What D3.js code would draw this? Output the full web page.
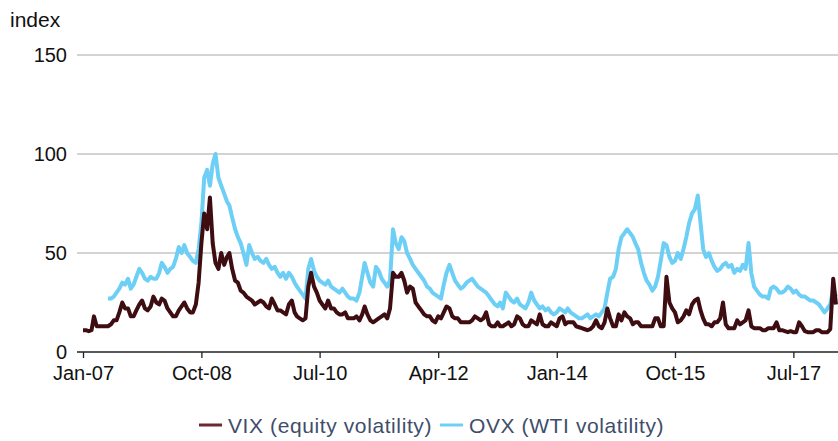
<!DOCTYPE html>
<html>
<head>
<meta charset="utf-8">
<script src="https://cdn.jsdelivr.net/npm/d3@7"></script>
<style>
  body { margin: 0; background: #fff; }
  svg { display: block; }
</style>
</head>
<body>
<svg id="chart" width="838" height="441"></svg>
<script>
// semi-monthly readings (1st and 16th of each month), Jan 2007 - Feb 2018
const vix = [
  11, 11, 10.5, 11, 18, 13, 13, 13, 13, 13, 14, 16, 16, 20, 25, 22, 22, 18, 18, 21, 24, 26, 22, 21,
  23, 28, 25, 24, 27, 26, 22, 20, 18, 18, 21, 23, 25, 22, 20, 20, 24, 35, 55, 70, 62, 78, 55, 45,
  42, 50, 44, 48, 50, 42, 36, 35, 31, 30, 28, 27, 26, 24, 25, 26, 25, 23, 22, 27, 24, 21, 21, 20,
  19, 24, 26, 20, 18, 17, 16, 17, 33, 40, 33, 30, 26, 24, 22, 26, 22, 22, 20, 19, 19, 20, 17, 17,
  17, 18, 16, 19, 23, 19, 16, 15, 16, 17, 18, 19, 17, 22, 40, 38, 38, 40, 36, 30, 33, 32, 25, 23,
  21, 19, 18, 18, 16, 15, 18, 17, 20, 23, 22, 18, 17, 17, 15, 15, 15, 15, 16, 18, 17, 16, 17, 20,
  14, 13, 13, 15, 13, 13, 14, 15, 13, 14, 18, 17, 14, 13, 13, 16, 15, 14, 19, 14, 13, 13, 15, 14,
  13, 17, 18, 14, 15, 15, 15, 13, 12.5, 12, 11.5, 11, 11.5, 13, 16, 13, 12, 15, 22, 17, 13, 13, 19, 16,
  20, 18, 17, 14, 15, 15, 13, 13, 13, 13, 13, 17, 17, 13, 13, 38, 25, 22, 20, 15, 16, 18, 21, 19,
  24, 26, 27, 21, 17, 14, 14, 13, 15, 15, 17, 25, 14, 12, 12, 12, 16, 14, 15, 16, 21, 13, 12, 12,
  12, 11, 11, 12, 12, 12, 15, 11, 11, 10.5, 10, 10.5, 10, 10, 15, 13, 10.5, 10, 10, 10, 11, 11, 10, 10,
  10, 11.5, 37, 24
];

const ovx = [
  null, null, null, null, null, null, null, null, null, 27, 27, 28, 30, 32, 35, 34, 37, 32, 34, 38, 42, 40, 37, 36,
  38, 37, 37, 40, 45, 43, 40, 42, 43, 47, 53, 50, 54, 50, 48, 46, 45, 52, 65, 88, 92, 84, 95, 100,
  88, 84, 80, 76, 74, 68, 62, 58, 55, 50, 44, 54, 50, 47, 48, 46, 45, 47, 44, 42, 43, 40, 38, 40,
  37, 40, 38, 35, 33, 31, 29, 27, 42, 47, 41, 38, 36, 35, 34, 36, 33, 32, 31, 30, 32, 30, 28, 27,
  27, 26, 30, 38, 45, 40, 35, 33, 43, 41, 37, 35, 33, 36, 62, 55, 52, 58, 56, 50, 47, 44, 42, 40,
  38, 36, 33, 32, 30, 29, 28, 27, 34, 40, 44, 40, 36, 34, 32, 33, 35, 36, 37, 35, 33, 32, 31, 30,
  28, 26, 24, 23, 25, 22, 30, 28, 26, 25, 27, 24, 23, 22, 25, 30, 26, 24, 22, 23, 21, 22, 20, 19,
  20, 22, 21, 20, 22, 20, 19, 18, 17, 17, 18, 19, 17, 18, 19, 18, 20, 22, 30, 37, 38, 42, 52, 58,
  60, 62, 60, 58, 55, 52, 45, 40, 36, 34, 31, 33, 38, 46, 55, 54, 48, 45, 46, 50, 47, 52, 58, 65,
  70, 72, 79, 65, 52, 48, 50, 46, 43, 41, 42, 44, 45, 43, 44, 40, 42, 41, 44, 42, 55, 40, 33, 31,
  29, 28, 28, 27, 32, 33, 32, 30, 30, 31, 33, 32, 30, 31, 29, 28, 28, 27, 26, 26, 25, 24, 22, 20,
  22, 24, 32, 28
];

const yTicks = [0, 50, 100, 150];
const xTickLabels = ["Jan-07", "Oct-08", "Jul-10", "Apr-12", "Jan-14", "Oct-15", "Jul-17"];
const seriesNames = ["VIX (equity volatility)", "OVX (WTI volatility)"];
const seriesColors = ["#3e0d12", "#6dcff6"];

// dates for the semi-monthly readings
const dates = vix.map((v, i) => new Date(2007, Math.floor(i / 2), i % 2 ? 16 : 1));
const tickDates = xTickLabels.map((s, i) => new Date(2007, i * 21, 1));

const svg = d3.select("#chart");
const width = 838, height = 441;
const margin = { top: 55, right: 2, bottom: 89, left: 83 };
const font = "'Liberation Sans', Arial, sans-serif";

const x = d3.scaleTime()
  .domain([new Date(2007, 0, 1), new Date(2018, 1, 16)])
  .range([margin.left, width - margin.right]);

const y = d3.scaleLinear()
  .domain([0, 150])
  .range([height - margin.bottom, margin.top]);

// gridlines
svg.append("g")
  .selectAll("line")
  .data(yTicks.filter(d => d > 0))
  .join("line")
  .attr("x1", 77)
  .attr("x2", width)
  .attr("y1", d => y(d))
  .attr("y2", d => y(d))
  .attr("stroke", "#c4c4c4")
  .attr("stroke-width", 1.3);

// y labels
svg.append("g")
  .selectAll("text")
  .data(yTicks)
  .join("text")
  .attr("x", 67)
  .attr("y", d => y(d))
  .attr("dy", "0.36em")
  .attr("text-anchor", "end")
  .style("font", `20px ${font}`)
  .attr("fill", "#111")
  .text(d => d);

svg.append("text")
  .attr("x", 10)
  .attr("y", 27)
  .style("font", `21px ${font}`)
  .attr("fill", "#111")
  .text("index");

// lines, OVX first so VIX sits on top
const line = d3.line()
  .defined(d => d[1] != null)
  .x(d => x(d[0]))
  .y(d => y(d[1]));

[ovx, vix].forEach((vals, k) => {
  const color = k === 0 ? seriesColors[1] : seriesColors[0];
  svg.append("path")
    .datum(vals.map((v, i) => [dates[i], v]))
    .attr("fill", "none")
    .attr("stroke", color)
    .attr("stroke-width", 4)
    .attr("stroke-linejoin", "round")
    .attr("d", line);
});

// x axis
const xAxis = d3.axisBottom(x)
  .tickValues(tickDates)
  .tickFormat((d, i) => xTickLabels[i])
  .tickSize(6)
  .tickSizeOuter(0);

const gx = svg.append("g")
  .attr("transform", `translate(0, ${y(0)})`)
  .call(xAxis);
gx.select(".domain").attr("d", `M77,0H${width}`).attr("stroke", "#222").attr("stroke-width", 1.3);
gx.selectAll(".tick line").attr("stroke", "#222").attr("stroke-width", 1.3);
gx.selectAll(".tick text")
  .attr("y", 14)
  .style("font", `20px ${font}`)
  .attr("fill", "#111");

// legend
const legend = svg.append("g").attr("transform", "translate(0, 425)");
const legendX = [199, 440];
seriesNames.forEach((name, i) => {
  legend.append("line")
    .attr("x1", legendX[i])
    .attr("x2", legendX[i] + 23)
    .attr("stroke", i === 0 ? "#6b2a2e" : seriesColors[1])
    .attr("stroke-width", 3);
  legend.append("text")
    .attr("x", legendX[i] + 29)
    .attr("dy", "0.36em")
    .style("font", `21px ${font}`)
    .style("letter-spacing", "0.6px")
    .attr("fill", "#3f4d6b")
    .text(name);
});
</script>
</body>
</html>
